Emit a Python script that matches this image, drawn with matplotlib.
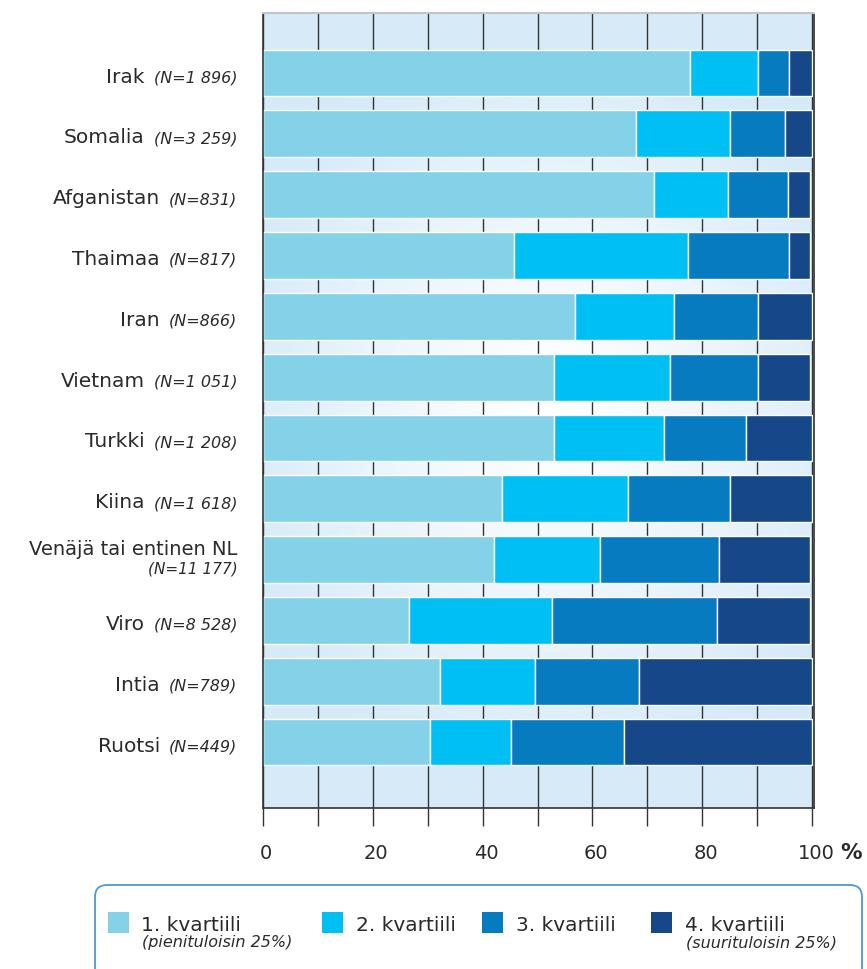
import numpy as np
import matplotlib
matplotlib.use('Agg')
import matplotlib.pyplot as plt
from matplotlib import transforms
from matplotlib.patches import FancyBboxPatch, Rectangle

countries = ['Irak', 'Somalia', 'Afganistan', 'Thaimaa', 'Iran', 'Vietnam',
             'Turkki', 'Kiina', 'Venäjä tai entinen NL', 'Viro', 'Intia', 'Ruotsi']
n_labels = ['(N=1 896)', '(N=3 259)', '(N=831)', '(N=817)', '(N=866)', '(N=1 051)',
            '(N=1 208)', '(N=1 618)', '(N=11 177)', '(N=8 528)', '(N=789)', '(N=449)']

# shares of income quartiles, %
q1 = [77.7, 68.0, 71.1, 45.8, 56.8, 53.0, 53.0, 43.6, 42.1, 26.6, 32.3, 30.5]
q2 = [12.5, 17.0, 13.5, 31.6, 18.0, 21.1, 20.0, 22.9, 19.2, 26.0, 17.3, 14.6]
q3 = [5.6, 10.1, 10.9, 18.4, 15.4, 16.1, 15.0, 18.5, 21.8, 30.1, 18.9, 20.7]
q4 = [4.2, 4.9, 4.0, 3.7, 9.7, 9.3, 11.9, 14.9, 16.4, 16.8, 31.4, 34.1]

quartile_labels = ['1. kvartiili', '2. kvartiili', '3. kvartiili', '4. kvartiili']
quartile_notes = ['(pienituloisin 25%)', '', '', '(suurituloisin 25%)']
colors = ['#83d2e8', '#00bff2', '#077bbf', '#164889']
x_ticklabels = ['0', '20', '40', '60', '80', '100']

txt = '#2a2a2a'
bg_blue = np.array([214, 234, 248]) / 255

fig = plt.figure(figsize=(8.67, 9.69), dpi=100)
ax = fig.add_axes([262.7 / 867, 1 - 808.3 / 969, 551.3 / 867, 795 / 969])

x_max = 100.3
y_top, y_bot = -0.982, 12.09
bar_h = 0.77

# background: light blue with a whitish glow in the middle
xs = np.linspace(0, x_max, 400)
ys = np.linspace(y_top, y_bot, 400)
X, Y = np.meshgrid(xs, ys)
t = np.sqrt(((X - 52) / 60) ** 2 + ((Y - 5.5) / 6.3) ** 2)
t = np.clip(t, 0, 1) ** 1.2
img = (1 - t)[..., None] * np.ones(3) + t[..., None] * bg_blue
ax.imshow(img, extent=[0, x_max, y_bot, y_top], aspect='auto', zorder=0,
          interpolation='bilinear')
ax.axhspan(y_top, -bar_h / 2, color=bg_blue, lw=0, zorder=0.3)
ax.axhspan(len(countries) - 1 + bar_h / 2, y_bot, color=bg_blue, lw=0, zorder=0.3)

ax.set_xticks(np.arange(0, 101, 10))
ax.set_xticklabels([])
ax.set_yticks([])
ax.grid(axis='x', color='#333333', lw=1.0)
ax.set_axisbelow(True)
ax.tick_params(axis='x', length=13, width=1, color='#333333', direction='out')

ypos = np.arange(len(countries))
left = np.zeros(len(countries))
for vals, c in zip([q1, q2, q3, q4], colors):
    ax.barh(ypos, vals, left=left, height=bar_h, color=c, edgecolor='white',
            linewidth=1, zorder=2)
    left += np.array(vals)

ax.set_xlim(0, x_max)
ax.set_ylim(y_bot, y_top)

for s in ['left', 'bottom', 'right']:
    ax.spines[s].set_color('#333333')
    ax.spines[s].set_linewidth(1.2)
ax.spines['top'].set_color('#c4c4c4')
ax.spines['top'].set_linewidth(1.5)

# category labels
renderer = fig.canvas.get_renderer()
ytr = transforms.blended_transform_factory(fig.transFigure, ax.transData)
x_right = 237.3 / 867
for i, (name, n) in enumerate(zip(countries, n_labels)):
    if len(name) > 15:
        ax.text(x_right, i, name, transform=transforms.offset_copy(ytr, fig=fig, y=5, units='dots'),
                ha='right', va='baseline', fontsize=14, color=txt)
        ax.text(x_right, i, n, transform=transforms.offset_copy(ytr, fig=fig, y=-14, units='dots'),
                ha='right', va='baseline', fontsize=11, style='italic', color=txt)
        continue
    t_n = ax.text(x_right, i, n, transform=transforms.offset_copy(ytr, fig=fig, y=-9.5, units='dots'),
                  ha='right', va='baseline', fontsize=11.5, style='italic', color=txt)
    bb = t_n.get_window_extent(renderer)
    xn = fig.transFigure.inverted().transform((bb.x0 - 9, 0))[0]
    ax.text(xn, i, name, transform=transforms.offset_copy(ytr, fig=fig, y=-9.5, units='dots'),
            ha='right', va='baseline', fontsize=14.5, color=txt)

# overlay in pixel coordinates for tick labels and legend
lax = fig.add_axes([0, 0, 1, 1])
lax.set_xlim(0, 867)
lax.set_ylim(969, 0)
lax.axis('off')

xtr = transforms.offset_copy(transforms.blended_transform_factory(ax.transData, lax.transData),
                             fig=fig, x=3.5, units='dots')
for lab in x_ticklabels:
    lax.text(float(lab), 859, lab, transform=xtr, ha='center', va='baseline',
             fontsize=14, color=txt)
lax.text(840.5, 859, '%', ha='left', va='baseline', fontsize=15.5, fontweight='bold', color=txt)

box = FancyBboxPatch((95, 885), 767, 110, boxstyle='round,pad=0,rounding_size=12',
                     fc='white', ec='#4a9ad4', lw=1.3)
lax.add_patch(box)
sq_x = [108.3, 322.3, 482.4, 651.4]
tx_x = [141.2, 355.7, 516.2, 684.6]
for k in range(4):
    lax.add_patch(Rectangle((sq_x[k], 911.7), 21, 21.6, fc=colors[k], ec='none'))
    lax.text(tx_x[k], 930.7, quartile_labels[k], ha='left', va='baseline',
             fontsize=14.5, color=txt)
    if quartile_notes[k]:
        lax.text(tx_x[k] + 1, 947.5, quartile_notes[k], ha='left', va='baseline',
                 fontsize=11.5, style='italic', color=txt)

fig.savefig('out.png', dpi=100)
